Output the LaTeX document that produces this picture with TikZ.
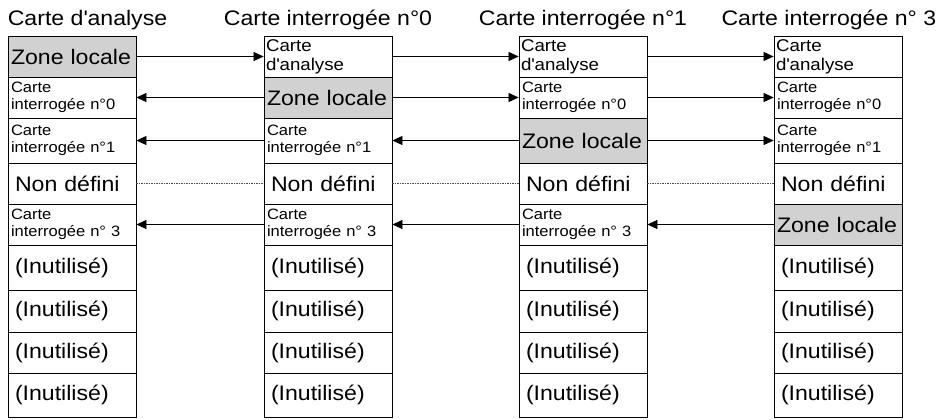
\documentclass[tikz,border=0pt]{standalone}
\usepackage{fontspec}
\setmainfont[FakeStretch=1.1]{Liberation Sans}
\usetikzlibrary{arrows.meta}
\hyphenpenalty=10000
\tikzset{%
  tipA/.tip={Triangle[length=10pt,width=9pt]},
  cell/.style={draw, line width=0.8pt, minimum width=128pt, text width=124pt,
    inner xsep=2pt, inner ysep=0pt, align=left, font=\fontsize{17}{19}\selectfont},
  big/.style={cell, text width=114pt, inner xsep=7pt, font=\fontsize{21}{23}\selectfont},
  zone/.style={cell, inner xsep=3pt, text width=122pt, fill=black!18, font=\fontsize{21}{23}\selectfont},
  small/.style={cell, inner xsep=3pt, text width=122pt, font=\fontsize{15}{16.5}\selectfont},
  title/.style={font=\fontsize{21}{23}\selectfont, inner sep=0pt},
  link/.style={line width=0.6pt, -tipA},
  undef/.style={line width=0.6pt, dash pattern=on 1.5pt off 1pt, black!70}
}
\newcommand{\qmap}[1]{Carte\\interrogée n°#1}
\newcommand{\ana}{Carte d\textquotesingle analyse}
\begin{document}
\begin{tikzpicture}[x=1pt,y=-1pt]
\useasboundingbox (0,0) rectangle (940,420);
% Carte d'analyse
\node[zone, minimum height=41pt] (a1) at (72,56.5) {Zone locale};
\node[small, minimum height=41pt] (a2) at (72,97.5) {\qmap{0}};
\node[small, minimum height=45pt] (a3) at (72,140.5) {\qmap{1}};
\node[big, minimum height=41pt] (a4) at (72,183.5) {Non défini};
\node[small, minimum height=41pt] (a5) at (72,224.5) {\qmap{ 3}};
\node[big, minimum height=45pt] (a6) at (72,267.5) {(Inutilisé)};
\node[big, minimum height=42pt] (a7) at (72,311) {(Inutilisé)};
\node[big, minimum height=41pt] (a8) at (72,352.5) {(Inutilisé)};
\node[big, minimum height=44pt] (a9) at (72,395) {(Inutilisé)};
% Carte interrogee n0
\node[cell, minimum height=41pt] (b1) at (328,56.5) {\ana};
\node[zone, minimum height=41pt] (b2) at (328,97.5) {Zone locale};
\node[small, minimum height=45pt] (b3) at (328,140.5) {\qmap{1}};
\node[big, minimum height=41pt] (b4) at (328,183.5) {Non défini};
\node[small, minimum height=41pt] (b5) at (328,224.5) {\qmap{ 3}};
\node[big, minimum height=45pt] (b6) at (328,267.5) {(Inutilisé)};
\node[big, minimum height=42pt] (b7) at (328,311) {(Inutilisé)};
\node[big, minimum height=41pt] (b8) at (328,352.5) {(Inutilisé)};
\node[big, minimum height=44pt] (b9) at (328,395) {(Inutilisé)};
% Carte interrogee n1
\node[cell, minimum height=41pt] (c1) at (583,56.5) {\ana};
\node[small, minimum height=41pt] (c2) at (583,97.5) {\qmap{0}};
\node[zone, minimum height=45pt] (c3) at (583,140.5) {Zone locale};
\node[big, minimum height=41pt] (c4) at (583,183.5) {Non défini};
\node[small, minimum height=41pt] (c5) at (583,224.5) {\qmap{ 3}};
\node[big, minimum height=45pt] (c6) at (583,267.5) {(Inutilisé)};
\node[big, minimum height=42pt] (c7) at (583,311) {(Inutilisé)};
\node[big, minimum height=41pt] (c8) at (583,352.5) {(Inutilisé)};
\node[big, minimum height=44pt] (c9) at (583,395) {(Inutilisé)};
% Carte interrogee n3
\node[cell, minimum height=41pt] (d1) at (838,56.5) {\ana};
\node[small, minimum height=41pt] (d2) at (838,97.5) {\qmap{0}};
\node[small, minimum height=45pt] (d3) at (838,140.5) {\qmap{1}};
\node[big, minimum height=41pt] (d4) at (838,183.5) {Non défini};
\node[zone, minimum height=41pt] (d5) at (838,224.5) {Zone locale};
\node[big, minimum height=45pt] (d6) at (838,267.5) {(Inutilisé)};
\node[big, minimum height=42pt] (d7) at (838,311) {(Inutilisé)};
\node[big, minimum height=41pt] (d8) at (838,352.5) {(Inutilisé)};
\node[big, minimum height=44pt] (d9) at (838,395) {(Inutilisé)};
% titles
\node[title, anchor=south west] (ta) at ([yshift=6pt]a1.north west) {\ana};
\node[title, anchor=south] (tb) at ([yshift=6pt]b1.north) {Carte interrogée n°0};
\node[title, anchor=south] (tc) at ([yshift=6pt]c1.north) {Carte interrogée n°1};
\node[title, anchor=south east] (td) at ([xshift=34pt,yshift=6pt]d1.north east) {Carte interrogée n° 3};
% links
\draw[link] (a1) -- (b1);
\draw[link] (b1) -- (c1);
\draw[link] (c1) -- (d1);
\draw[link] (b2) -- (a2);
\draw[link] (b2) -- (c2);
\draw[link] (c2) -- (d2);
\draw[link] (b3) -- (a3);
\draw[link] (c3) -- (b3);
\draw[link] (c3) -- (d3);
\draw[undef] (a4) -- (b4);
\draw[undef] (b4) -- (c4);
\draw[undef] (c4) -- (d4);
\draw[link] (b5) -- (a5);
\draw[link] (c5) -- (b5);
\draw[link] (d5) -- (c5);
\end{tikzpicture}
\end{document}
